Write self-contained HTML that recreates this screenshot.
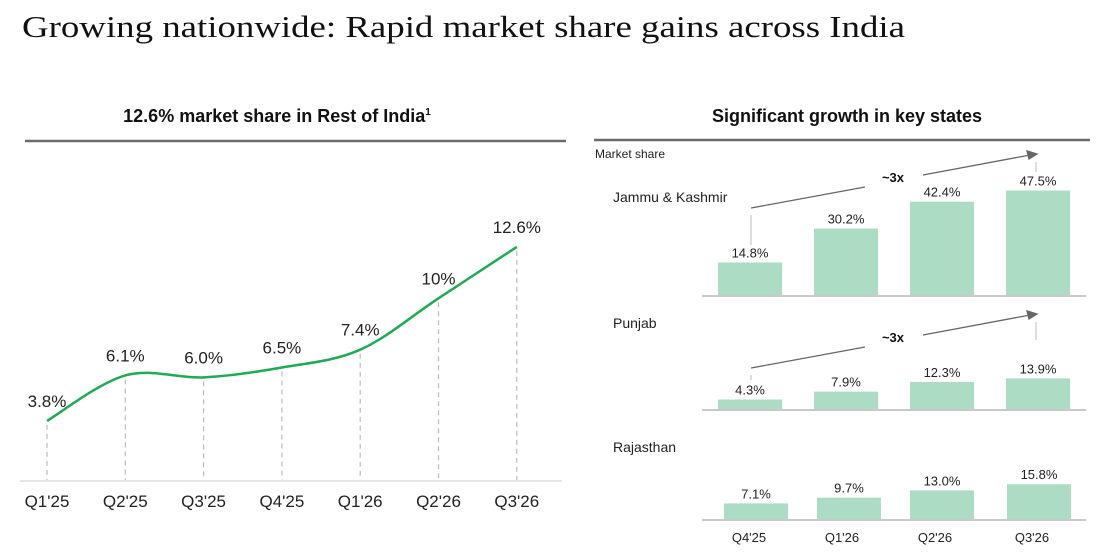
<!DOCTYPE html>
<html><head><meta charset="utf-8"><style>
html,body{margin:0;padding:0;background:#fff}
svg{display:block;font-family:"Liberation Sans",sans-serif}
</style></head><body>
<svg id="c" width="1097" height="552" viewBox="0 0 1097 552">
<text x="22" y="37" font-family="Liberation Serif,serif" font-size="31" fill="#111" textLength="883" lengthAdjust="spacingAndGlyphs">Growing nationwide: Rapid market share gains across India</text>
<text x="277" y="122" text-anchor="middle" font-size="18" font-weight="bold" fill="#111">12.6% market share in Rest of India<tspan font-size="10" dy="-7">1</tspan></text>
<line x1="25" y1="141" x2="566" y2="141" stroke="#6b6b6b" stroke-width="2.5"/>
<text x="847" y="122" text-anchor="middle" font-size="18" font-weight="bold" fill="#111">Significant growth in key states</text>
<line x1="594" y1="140" x2="1090" y2="140" stroke="#6b6b6b" stroke-width="2.5"/>
<text x="595" y="158" font-size="12" fill="#222">Market share</text>
<line x1="20" y1="481" x2="562" y2="481" stroke="#d4d4d4" stroke-width="1.2"/>
<g id="left"></g>
<g id="right"></g>
</svg>
<script>
const lineCats=["Q1'25","Q2'25","Q3'25","Q4'25","Q1'26","Q2'26","Q3'26"];
const lineVals=[3.8,6.1,6.0,6.5,7.4,10,12.6];
const lineLabels=["3.8%","6.1%","6.0%","6.5%","7.4%","10%","12.6%"];
const barCats=["Q4'25","Q1'26","Q2'26","Q3'26"];
const states=["Jammu & Kashmir","Punjab","Rajasthan"];
const jkVals=[14.8,30.2,42.4,47.5];
const pbVals=[4.3,7.9,12.3,13.9];
const rjVals=[7.1,9.7,13.0,15.8];
const NS="http://www.w3.org/2000/svg";
function mk(tag,attrs,parent,txt){const e=document.createElementNS(NS,tag);for(const k in attrs)e.setAttribute(k,attrs[k]);if(txt!==undefined)e.textContent=txt;parent.appendChild(e);return e;}
const L=document.getElementById('left');
const lx=i=>47+i*78.3;
const ly=v=>496-v*19.77;
const pts=lineVals.map((v,i)=>[lx(i),ly(v)]);
lineVals.forEach((v,i)=>{
  const d=mk('line',{x1:lx(i),y1:ly(v)+4,x2:lx(i),y2:480,stroke:'#bbb','stroke-dasharray':'5,4','stroke-width':1.2},L);
  
  
  const t=mk('text',{x:lx(i),y:ly(v)-14,'text-anchor':'middle','font-size':17,fill:'#222'},L,lineLabels[i]);
  
  
  const c=mk('text',{x:lx(i),y:507,'text-anchor':'middle','font-size':17,fill:'#222'},L,lineCats[i]);
  
  
});
let d='M'+pts[0][0]+','+pts[0][1];
for(let i=0;i<pts.length-1;i++){
  const p0=pts[Math.max(0,i-1)],p1=pts[i],p2=pts[i+1],p3=pts[Math.min(pts.length-1,i+2)];
  const c1=[p1[0]+(p2[0]-p0[0])/6,p1[1]+(p2[1]-p0[1])/6];
  const c2=[p2[0]-(p3[0]-p1[0])/6,p2[1]-(p3[1]-p1[1])/6];
  d+=' C'+c1+' '+c2+' '+p2;
}
const path=mk('path',{d:d,fill:'none',stroke:'#1faa55','stroke-width':2.5},L);


const R=document.getElementById('right');
const series=[jkVals,pbVals,rjVals];
const bases=[295,409,519];
const nameY=[202,328,452];
const bx=[[718,814,910,1006],[718,814,910,1006],[724,817,910,1007]];
const by=(v,b)=>b-v*2.2;
series.forEach((vals,s)=>{
  const b=bases[s];
  const n=mk('text',{x:613,y:nameY[s],'font-size':14,fill:'#222'},R,states[s]);
  
  
  vals.forEach((v,i)=>{
    const r=mk('rect',{x:bx[s][i],y:by(v,b),width:64,height:v*2.2,fill:'#acdcc4'},R);
    
    
    const t=mk('text',{x:bx[s][i]+32,y:by(v,b)-5,'text-anchor':'middle','font-size':13,fill:'#222'},R,v.toFixed(1)+'%');
    
    
  });
  const a=mk('line',{x1:702,y1:b+1,x2:1086,y2:b+1,stroke:'#c8c8c8','stroke-width':2},R);
  
  
});
barCats.forEach((c,i)=>{
  const t=mk('text',{x:bx[2][i]+25,y:542,'text-anchor':'middle','font-size':13,fill:'#222'},R,c);
  
  
});
[[0,0],[1,160]].forEach(([k,o])=>{
  const g=mk('g',{stroke:'#666','stroke-width':1.3,fill:'none'},R);
  
  
  mk('line',{x1:751,y1:215+o,x2:751,y2:(k?220:245)+o,stroke:'#ccc'},g);
  mk('line',{x1:751,y1:208+o,x2:865,y2:187+o},g);
  mk('line',{x1:923,y1:175+o,x2:1030,y2:155+o},g);
  mk('path',{d:`M1037,${154+o} l-10,-3 l2,8 z`,fill:'#666'},g);
  mk('line',{x1:1036,y1:162+o,x2:1036,y2:(k?180:172)+o,stroke:'#ccc'},g);
  const t=mk('text',{x:893,y:182+o,'text-anchor':'middle','font-size':13,'font-weight':'bold',fill:'#111'},R,'~3x');
  
  
});
</script>
</body></html>
